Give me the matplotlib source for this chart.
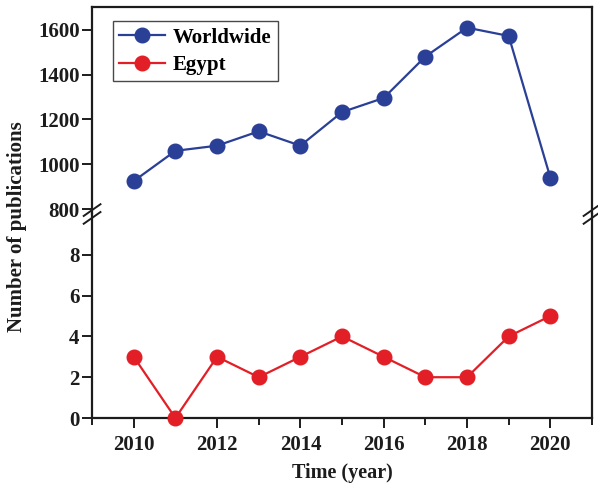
import matplotlib.pyplot as plt
import matplotlib.lines as mlines
from matplotlib.ticker import MultipleLocator

years = [2010, 2011, 2012, 2013, 2014, 2015, 2016, 2017, 2018, 2019, 2020]
worldwide = [925, 1060, 1083, 1147, 1083, 1233, 1296, 1481, 1610, 1573, 940]
egypt = [3, 0, 3, 2, 3, 4, 3, 2, 2, 4, 5]

blue = '#2a3f96'
red = '#e21f26'
ink = '#1c1c1c'

plt.rcParams['font.family'] = ['Liberation Serif', 'DejaVu Serif']
plt.rcParams['font.weight'] = 'bold'
plt.rcParams['font.size'] = 15

fig = plt.figure(figsize=(5.98, 4.88), dpi=100)
ax_top = fig.add_axes([0.154, 0.5615, 0.836, 0.4245])
ax_bot = fig.add_axes([0.154, 0.1434, 0.836, 0.4181], sharex=ax_top)

ax_top.plot(years, worldwide, '-o', color=blue, lw=1.6, ms=10.5, label='Worldwide')
ax_top.plot([], [], '-o', color=red, lw=1.6, ms=10.5, label='Egypt')
ax_bot.plot(years, egypt, '-o', color=red, lw=1.6, ms=10.5, clip_on=False, zorder=5)

ax_top.set_ylim(778, 1703)
ax_top.yaxis.set_major_locator(MultipleLocator(200))
ax_bot.set_ylim(0, 10)
ax_bot.set_yticks([0, 2, 4, 6, 8])
ax_bot.set_xlim(2009, 2021)
ax_bot.xaxis.set_major_locator(MultipleLocator(2))
ax_bot.xaxis.set_minor_locator(MultipleLocator(1))

for ax in (ax_top, ax_bot):
    for s in ax.spines.values():
        s.set_linewidth(1.6)
        s.set_color(ink)
    ax.tick_params(axis='both', which='both', direction='out', width=1.4,
                   labelsize=15, colors=ink, pad=2)
    ax.tick_params(axis='both', which='major', length=7)
    ax.tick_params(axis='x', which='minor', length=5)
    ax.tick_params(axis='x', which='major', pad=5)

ax_top.spines['bottom'].set_visible(False)
ax_bot.spines['top'].set_visible(False)
ax_top.tick_params(axis='x', which='both', bottom=False, labelbottom=False)

ax_bot.set_xlabel('Time (year)', fontsize=14.5, fontweight='bold', labelpad=6, color=ink)
fig.text(0.028, 0.535, 'Number of publications', rotation=90, va='center', ha='center',
         fontsize=15, fontweight='bold', color=ink)

leg = ax_top.legend(loc='upper left', bbox_to_anchor=(0.02, 0.98), frameon=True,
                    fancybox=False, edgecolor=ink, handlelength=2.2,
                    borderpad=0.3, labelspacing=0.35, handletextpad=0.4,
                    prop={'weight': 'bold', 'size': 15})
leg.get_frame().set_linewidth(1.0)

# double slash break marks on both vertical spines
y_break = 0.5615
for xb in (0.154, 0.99):
    for dy in (-0.008, 0.008):
        fig.add_artist(mlines.Line2D([xb - 0.014, xb + 0.014],
                                     [y_break + dy - 0.012, y_break + dy + 0.012],
                                     color=ink, lw=1.4))

fig.savefig('out.png', dpi=100)
